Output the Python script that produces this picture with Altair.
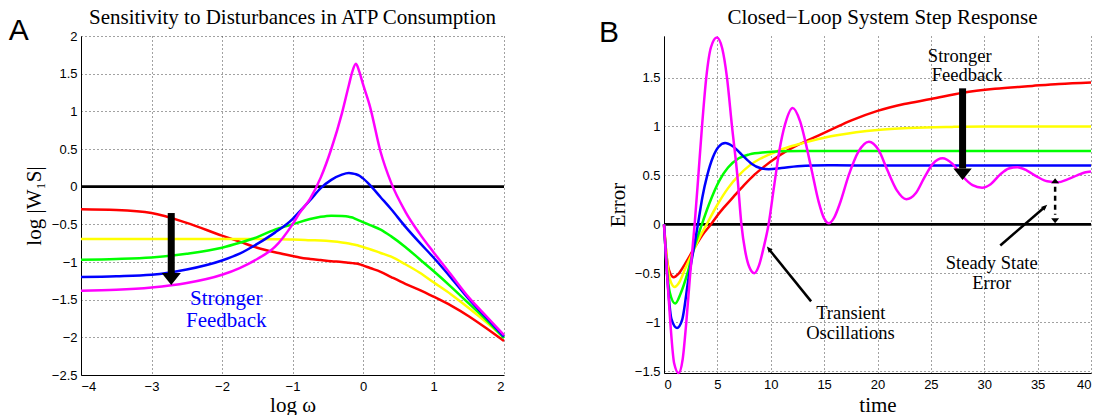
import altair as alt
import pandas as pd

# ---------------- Panel A data (log omega vs log|W1 S|) ----------------
LOGW = [-4, -3.5, -3, -2.5, -2, -1.75, -1.5, -1.25, -1, -0.9, -0.75, -0.6, -0.45, -0.3, -0.2,
        -0.15, -0.1, -0.05, 0, 0.1, 0.25, 0.4, 0.6, 0.8, 1, 1.25, 1.5, 1.75, 2]
A_RED = [-0.30, -0.31, -0.35, -0.48, -0.65, -0.73, -0.81, -0.87, -0.92, -0.94, -0.96, -0.975, -0.99,
         -1.00, -1.01, -1.015, -1.02, -1.03, -1.045, -1.08, -1.13, -1.20, -1.29, -1.37, -1.46,
         -1.58, -1.72, -1.88, -2.05]
A_YELLOW = [-0.695, -0.695, -0.695, -0.695, -0.695, -0.695, -0.695, -0.697, -0.70, -0.703, -0.71,
            -0.715, -0.725, -0.74, -0.755, -0.765, -0.775, -0.787, -0.80, -0.83, -0.88, -0.93,
            -1.03, -1.14, -1.27, -1.43, -1.61, -1.80, -2.00]
A_GREEN = [-0.97, -0.96, -0.94, -0.89, -0.81, -0.745, -0.67, -0.57, -0.50, -0.47, -0.43, -0.40,
           -0.385, -0.39, -0.40, -0.41, -0.43, -0.45, -0.47, -0.51, -0.57, -0.66, -0.80, -0.96,
           -1.12, -1.33, -1.55, -1.77, -2.01]
A_BLUE = [-1.20, -1.19, -1.17, -1.10, -0.98, -0.89, -0.76, -0.61, -0.43, -0.33, -0.18, -0.02,
          0.09, 0.16, 0.18, 0.175, 0.165, 0.145, 0.11, 0.02, -0.14, -0.30, -0.53, -0.74, -0.94,
          -1.21, -1.49, -1.74, -1.99]
A_MAGENTA = [-1.38, -1.37, -1.34, -1.28, -1.17, -1.08, -0.96, -0.80, -0.50, -0.35, -0.16, 0.12,
             0.50, 0.97, 1.35, 1.53, 1.63, 1.52, 1.36, 1.06, 0.46, 0.05, -0.33, -0.62, -0.87,
             -1.17, -1.47, -1.72, -1.97]
A_XTICKS = [-4, -3, -2, -1, 0, 1, 2]
A_YTICKS = [-2.5, -2, -1.5, -1, -0.5, 0, 0.5, 1, 1.5, 2]

# ---------------- Panel B data (time vs error) ----------------
T_RED = [0, 0.2, 0.45, 0.9, 1.4, 2.0, 2.8, 3.6, 4.4, 5.0, 5.6, 6.5, 7.5, 8.5, 9.5, 10.5, 11.5,
         12.5, 13.5, 14.5, 15.7, 17.5, 20, 22.5, 25, 28, 31, 34.5, 37, 40]
B_RED = [0, -0.28, -0.46, -0.54, -0.5, -0.4, -0.25, -0.11, 0.0, 0.09, 0.17, 0.28, 0.40, 0.51,
         0.60, 0.68, 0.75, 0.81, 0.86, 0.91, 0.97, 1.06, 1.16, 1.23, 1.28, 1.345, 1.385, 1.415,
         1.435, 1.45]
T_YELLOW = [0, 0.25, 0.55, 1.0, 1.45, 2.0, 2.8, 3.4, 4.0, 5.0, 6.0, 7.0, 8.0, 9.0, 10.0, 11.0,
            12.0, 13.0, 14.0, 15.0, 16.5, 18, 20, 23, 27, 30, 40]
B_YELLOW = [0, -0.33, -0.56, -0.64, -0.59, -0.45, -0.26, -0.12, 0.0, 0.2, 0.37, 0.5, 0.6, 0.67,
            0.72, 0.765, 0.80, 0.83, 0.86, 0.885, 0.915, 0.94, 0.965, 0.985, 0.996, 1.0, 1.0]
T_GREEN = [0, 0.25, 0.55, 1.05, 1.55, 2.2, 2.8, 3.55, 4.2, 5.2, 6.0, 7.0, 8.0, 9.5, 11, 13, 40]
B_GREEN = [0, -0.42, -0.7, -0.81, -0.71, -0.5, -0.25, 0.0, 0.2, 0.45, 0.58, 0.675, 0.715, 0.737,
           0.746, 0.75, 0.75]
T_BLUE = [0, 0.28, 0.7, 1.22, 1.69, 2.3, 2.75, 3.18, 3.6, 4.05, 4.6, 5.1, 5.74, 6.4, 7.3, 8.2,
          9.0, 9.8, 11, 12.5, 14, 16, 20, 40]
B_BLUE = [0, -0.5, -0.97, -1.06, -0.98, -0.55, -0.27, 0.0, 0.28, 0.5, 0.69, 0.79, 0.83, 0.8,
          0.71, 0.62, 0.575, 0.563, 0.575, 0.593, 0.601, 0.603, 0.6, 0.6]
T_MAGENTA = [0, 0.28, 0.59, 0.95, 1.37, 1.75, 2.09, 2.46, 2.87, 3.22, 3.56, 3.96, 4.4, 4.95, 5.45,
             5.9, 6.37, 6.87, 7.25, 7.6, 8.0, 8.46, 8.9, 9.33, 9.8, 10.3, 10.8, 11.36, 12.05,
             12.76, 13.3, 13.86, 14.49, 15.0, 15.45, 15.9, 16.5, 17.3, 18.2, 19.2, 20.1, 20.9,
             21.8, 22.7, 23.6, 24.4, 25.2, 26.1, 27.0, 27.9, 28.9, 29.8, 30.6, 31.5, 32.3, 33.1,
             34.0, 34.9, 35.9, 36.9, 37.8, 38.7, 39.4, 40]
B_MAGENTA = [0, -0.5, -1.0, -1.42, -1.52, -1.38, -1.0, -0.5, 0.0, 0.5, 1.0, 1.5, 1.81, 1.91, 1.8,
             1.5, 1.0, 0.5, 0.0, -0.27, -0.44, -0.50, -0.42, -0.24, 0.0, 0.38, 0.75, 1.03, 1.19,
             1.05, 0.82, 0.54, 0.23, 0.06, 0.01, 0.06, 0.22, 0.5, 0.74, 0.845, 0.76, 0.56, 0.35,
             0.257, 0.32, 0.48, 0.62, 0.675, 0.62, 0.5, 0.4, 0.375, 0.41, 0.51, 0.57, 0.584, 0.55,
             0.49, 0.44, 0.43, 0.46, 0.5, 0.53, 0.54]
B_XTICKS = [0, 5, 10, 15, 20, 25, 30, 35, 40]
B_YTICKS = [-1.5, -1, -0.5, 0, 0.5, 1, 1.5]

COLORS = {"red": "#ff0000", "yellow": "#ffff00", "green": "#00ff00",
          "blue": "#0000ff", "magenta": "#ff00ff"}

SERIF = "Liberation Serif"
SANS = "Liberation Sans"
HEAD = "M0,0L0.8,1L-0.8,1Z"        # arrow head, tip at the anchor point, pointing up
SLIM = "M0,0L0.42,1L-0.42,1Z"

WA, HA = 423, 339
WB, HB = 427, 337

XA = alt.X("x:Q", scale=alt.Scale(domain=[-4, 2], nice=False, zero=False),
           axis=alt.Axis(values=A_XTICKS, format="~g", title="log ω",
                         titleX=WA / 2, titleY=36, titleBaseline="alphabetic"))
YA = alt.Y("y:Q", scale=alt.Scale(domain=[-2.5, 2], nice=False, zero=False),
           axis=alt.Axis(values=A_YTICKS, format="~g", title="log |W₁S|",
                         titleX=-41, titleY=HA / 2, titleBaseline="alphabetic"))
XB = alt.X("x:Q", scale=alt.Scale(domain=[0, 40], nice=False, zero=False),
           axis=alt.Axis(values=B_XTICKS, format="~g", title="time",
                         titleX=WB / 2, titleY=38, titleBaseline="alphabetic"))
YB = alt.Y("y:Q", scale=alt.Scale(domain=[-1.52, 1.925], nice=False, zero=False),
           axis=alt.Axis(values=B_YTICKS, format="~g", title="Error",
                         titleX=-40, titleY=HB / 2, titleBaseline="alphabetic"))


def curve(xs, ys, color, X, Y):
    df = pd.DataFrame({"x": xs, "y": ys})
    return alt.Chart(df).mark_line(color=color, strokeWidth=2.5,
                                   interpolate="monotone").encode(x=X, y=Y)


def txt(xv, yv, s, X, Y, size, color="black", font=SERIF):
    df = pd.DataFrame({"x": [xv], "y": [yv], "t": [s]})
    return alt.Chart(df).mark_text(font=font, fontSize=size, color=color, align="center",
                                   baseline="alphabetic").encode(x=X, y=Y, text="t:N")


def head(xv, yv, angle, size, X, Y, shape=HEAD):
    df = pd.DataFrame({"x": [xv], "y": [yv]})
    return alt.Chart(df).mark_point(shape=shape, size=size, filled=True, color="black",
                                    opacity=1, strokeWidth=0, angle=angle).encode(x=X, y=Y)


def seg(x1, y1, x2, y2, X, Y, width, dash=None):
    df = pd.DataFrame({"x": [x1], "y": [y1], "x2": [x2], "y2": [y2]})
    kw = dict(color="black", strokeWidth=width)
    if dash:
        kw["strokeDash"] = dash
    return alt.Chart(df).mark_rule(**kw).encode(x=X, y=Y, x2="x2:Q", y2="y2:Q")


def pixtext(s, xpx, ypx, font, size, align):
    df = pd.DataFrame({"t": [s]})
    return alt.Chart(df).mark_text(font=font, fontSize=size, color="black", align=align,
                                   baseline="alphabetic").encode(
        x=alt.value(xpx), y=alt.value(ypx), text="t:N")


# ---------------- Panel A ----------------
zeroA = alt.Chart(pd.DataFrame({"y": [0]})).mark_rule(color="black", strokeWidth=2.8).encode(y=YA)
left_layers = [zeroA]
for name, vals in [("red", A_RED), ("yellow", A_YELLOW), ("green", A_GREEN),
                   ("blue", A_BLUE), ("magenta", A_MAGENTA)]:
    left_layers.append(curve(LOGW, vals, COLORS[name], XA, YA))
left_layers += [
    seg(-2.72, -0.35, -2.72, -1.16, XA, YA, 7),
    head(-2.72, -1.305, 180, 576, XA, YA),
    txt(-1.94, -1.571, "Stronger", XA, YA, 21, "#0000ff"),
    txt(-1.94, -1.867, "Feedback", XA, YA, 21, "#0000ff"),
    pixtext("A", -72.3, 4, SANS, 30, "left"),
    pixtext("Sensitivity to Disturbances in ATP Consumption", WA / 2, -12, SERIF, 21, "center"),
]
left = alt.layer(*left_layers).properties(width=WA, height=HA)

# ---------------- Panel B ----------------
zeroB = alt.Chart(pd.DataFrame({"y": [0]})).mark_rule(color="black", strokeWidth=2.8).encode(y=YB)
right_layers = [zeroB]
for name, ts, vals in [("red", T_RED, B_RED), ("yellow", T_YELLOW, B_YELLOW),
                       ("green", T_GREEN, B_GREEN), ("blue", T_BLUE, B_BLUE),
                       ("magenta", T_MAGENTA, B_MAGENTA)]:
    right_layers.append(curve(ts, vals, COLORS[name], XB, YB))
right_layers += [
    # strong feedback arrow
    seg(27.97, 1.39, 27.97, 0.57, XB, YB, 7),
    head(27.97, 0.454, 180, 529, XB, YB),
    txt(27.7, 1.658, "Stronger", XB, YB, 18.5),
    txt(28.4, 1.464, "Feedback", XB, YB, 18.5),
    # transient oscillations arrow
    seg(13.78, -0.788, 9.8, -0.25, XB, YB, 2.5),
    head(9.64, -0.227, 321, 144, XB, YB, SLIM),
    txt(17.5, -0.968, "Transient", XB, YB, 18.5),
    txt(17.46, -1.17, "Oscillations", XB, YB, 18.5),
    # steady state error arrows
    seg(31.5, -0.216, 35.7, 0.18, XB, YB, 2.5),
    head(35.9, 0.199, 49, 144, XB, YB, SLIM),
    seg(36.64, 0.385, 36.64, 0.097, XB, YB, 2.5, [5, 4]),
    head(36.64, 0.47, 0, 100, XB, YB),
    head(36.64, 0.01, 180, 100, XB, YB),
    txt(30.7, -0.457, "Steady State", XB, YB, 18.5),
    txt(30.7, -0.661, "Error", XB, YB, 18.5),
    pixtext("B", -65, 5.5, SANS, 30, "left"),
    pixtext("Closed−Loop System Step Response", WB / 2 + 5, -12, SERIF, 21, "center"),
]
right = alt.layer(*right_layers).properties(width=WB, height=HB)

chart = alt.hconcat(left, right, spacing=90).properties(
    padding={"left": 8, "top": 7, "right": 0, "bottom": 0},
    background="white",
).configure_axis(
    grid=True, gridDash=[1, 3], gridColor="#444444", gridOpacity=1, gridWidth=1,
    domainColor="black", domainWidth=1, ticks=False,
    labelFont=SANS, labelFontSize=13, labelColor="black", labelPadding=5,
    titleFont=SERIF, titleFontSize=21, titleFontWeight="normal", titleColor="black"
).configure_axisY(labelPadding=4).configure_view(stroke=None)

chart.save("out.html", embed_options={"renderer": "svg", "actions": False})
